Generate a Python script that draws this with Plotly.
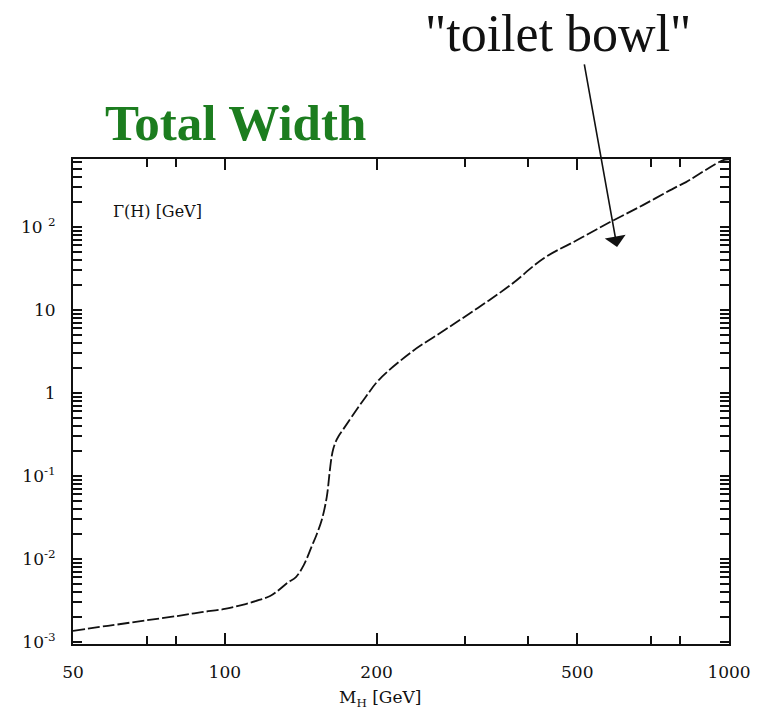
import plotly.graph_objects as go

# Higgs mass [GeV] and total width Gamma(H) [GeV]
mass_gev = [50, 56.5, 61, 70, 81, 90, 100, 110, 117, 123, 128, 133, 138.4,
            143.5, 148.6, 152, 155.7, 159.3, 161.6, 163, 164.2, 166, 168,
            172, 178.4, 190.3, 202, 234.6, 273, 317.6, 368.7, 430, 500, 581,
            675, 785, 822, 974, 1000]
width_gev = [1.36e-3, 1.52e-3, 1.62e-3, 1.83e-3, 2.07e-3, 2.29e-3, 2.5e-3,
             2.87e-3, 3.21e-3, 3.58e-3, 4.24e-3, 5.14e-3, 6.07e-3, 8.5e-3,
             0.0140, 0.0195, 0.0295, 0.0558, 0.118, 0.175, 0.215, 0.26, 0.3,
             0.37, 0.514, 0.895, 1.435, 3.12, 5.74, 10.6, 20.0, 42.4, 69.7,
             114.8, 184, 303, 348, 641, 655]

x_tick_vals = [50, 100, 200, 500, 1000]
x_tick_text = ["50", "100", "200", "500", "1000"]
x_minor_vals = [70, 80, 300, 400, 700, 800]

y_tick_vals = [1e-3, 1e-2, 1e-1, 1, 10, 100]
y_tick_text = ["10<sup>-3</sup>", "10<sup>-2</sup>", "10<sup>-1</sup>", "1",
               "10", "10 <sup>2</sup>"]

X_RANGE = [1.69897, 3.0]
Y_RANGE = [-3.024, 2.82]

tick_font = dict(family="DejaVu Serif", size=17, color="#111111")
INK = "#111111"

fig = go.Figure()
fig.add_trace(go.Scatter(
    x=mass_gev, y=width_gev, mode="lines",
    line=dict(color=INK, width=1.8, dash="12px,3px", shape="spline",
              smoothing=1.0),
    showlegend=False, hoverinfo="skip",
))
# invisible trace that puts the minor-tick axis into use
fig.add_trace(go.Scatter(x=[50, 1000], y=[1e-3, 1e-3], xaxis="x2",
                         mode="markers", marker=dict(opacity=0),
                         showlegend=False, hoverinfo="skip"))

axis_common = dict(
    showgrid=False, zeroline=False, showline=True, linecolor=INK,
    linewidth=2, ticks="inside", tickcolor=INK, tickwidth=1.5,
    mirror="allticks", tickfont=tick_font, ticklabelstandoff=12,
)

fig.update_layout(
    xaxis=dict(type="log", range=X_RANGE, tickmode="array",
               tickvals=x_tick_vals, ticktext=x_tick_text, ticklen=11,
               **axis_common),
    yaxis=dict(type="log", range=Y_RANGE, tickmode="array",
               tickvals=y_tick_vals, ticktext=y_tick_text, ticklen=9,
               minor=dict(dtick="D1", ticks="inside", ticklen=5,
                          tickcolor=INK, tickwidth=1.5),
               **axis_common),
    # second x axis carrying only the short intermediate ticks
    xaxis2=dict(type="log", range=X_RANGE, overlaying="x", side="bottom",
                anchor="y", tickmode="array", tickvals=x_minor_vals,
                ticks="inside", ticklen=8, tickcolor=INK, tickwidth=1.5,
                mirror="allticks", showline=False, showgrid=False,
                zeroline=False, showticklabels=False),
)

annotations = [
    # plot heading
    dict(text="<b>Total Width</b>", xref="paper", yref="paper",
         x=0.247, y=1.074, xanchor="center", yanchor="middle",
         showarrow=False,
         font=dict(family="Liberation Serif", size=51, color="#1c7d1f")),
    # quantity label inside the frame
    dict(text="\u0393(H) [GeV]", xref="paper", yref="paper",
         x=0.058, y=0.891, xanchor="left", yanchor="middle",
         showarrow=False,
         font=dict(family="DejaVu Serif", size=16, color=INK)),
    # x-axis title
    dict(text="M<sub>H</sub> [GeV]", xref="paper", yref="paper",
         x=0.468, y=-0.112, xanchor="center", yanchor="middle",
         showarrow=False,
         font=dict(family="DejaVu Serif", size=17, color=INK)),
    # "toilet bowl" caption
    dict(text="\"toilet bowl\"", xref="paper", yref="paper",
         x=0.739, y=1.258, xanchor="center", yanchor="middle",
         showarrow=False,
         font=dict(family="Liberation Serif", size=52, color=INK)),
    # arrow from caption down to the curve
    dict(text="", x=2.778, y=1.76, xref="x", yref="y",
         showarrow=True, ax=-33, ay=-184, axref="pixel", ayref="pixel",
         arrowhead=1, arrowsize=2.2, arrowwidth=1.6, arrowcolor=INK,
         standoff=0, startstandoff=0),
]
fig.update_layout(
    width=763, height=714,
    margin=dict(l=73, r=30, t=159, b=70),
    paper_bgcolor="white", plot_bgcolor="white",
    annotations=annotations,
)

fig.write_html("out.html")
